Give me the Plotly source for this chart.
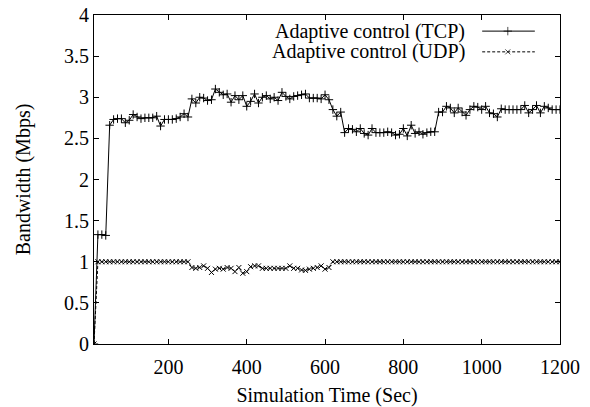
import plotly.graph_objects as go

time_s = list(range(10, 1201, 10))

tcp_mbps = [
    0.00, 1.33, 1.33, 1.32, 2.66, 2.73, 2.74, 2.74, 2.69, 2.72,   # 10-100
    2.79, 2.76, 2.74, 2.75, 2.75, 2.75, 2.77, 2.65, 2.73, 2.73,   # 110-200
    2.73, 2.74, 2.76, 2.80, 2.76, 2.98, 2.93, 3.00, 2.99, 2.96,   # 210-300
    2.97, 3.10, 3.06, 3.03, 3.04, 2.94, 3.02, 2.97, 3.02, 2.89,   # 310-400
    2.95, 3.04, 2.93, 3.00, 3.02, 2.98, 3.00, 2.96, 3.06, 3.01,   # 410-500
    2.98, 3.01, 3.02, 3.03, 3.04, 2.99, 2.99, 2.99, 2.98, 3.03,   # 510-600
    2.97, 2.85, 2.77, 2.82, 2.57, 2.62, 2.61, 2.58, 2.62, 2.56,   # 610-700
    2.54, 2.62, 2.57, 2.57, 2.57, 2.58, 2.57, 2.54, 2.55, 2.62,   # 710-800
    2.53, 2.66, 2.56, 2.58, 2.55, 2.57, 2.58, 2.58, 2.82, 2.82,   # 810-900
    2.89, 2.87, 2.81, 2.87, 2.82, 2.78, 2.85, 2.89, 2.88, 2.85,   # 910-1000
    2.89, 2.81, 2.80, 2.76, 2.86, 2.85, 2.85, 2.85, 2.85, 2.85,   # 1010-1100
    2.90, 2.81, 2.85, 2.90, 2.81, 2.89, 2.87, 2.85, 2.85, 2.85,   # 1110-1200
]

udp_mbps = [
    0.00, 1.00, 1.00, 1.00, 1.00, 1.00, 1.00, 1.00, 1.00, 1.00,   # 10-100
    1.00, 1.00, 1.00, 1.00, 1.00, 1.00, 1.00, 1.00, 1.00, 1.00,   # 110-200
    1.00, 1.00, 1.00, 1.00, 1.00, 0.93, 0.92, 0.93, 0.95, 0.92,   # 210-300
    0.87, 0.91, 0.92, 0.91, 0.93, 0.92, 0.88, 0.93, 0.86, 0.88,   # 310-400
    0.94, 0.95, 0.95, 0.92, 0.92, 0.92, 0.92, 0.92, 0.92, 0.92,   # 410-500
    0.95, 0.92, 0.92, 0.90, 0.895, 0.91, 0.92, 0.93, 0.95, 0.91,  # 510-600
    0.93, 1.00, 1.00, 1.00, 1.00, 1.00, 1.00, 1.00, 1.00, 1.00,   # 610-700
    1.00, 1.00, 1.00, 1.00, 1.00, 1.00, 1.00, 1.00, 1.00, 1.00,   # 710-800
    1.00, 1.00, 1.00, 1.00, 1.00, 1.00, 1.00, 1.00, 1.00, 1.00,   # 810-900
    1.00, 1.00, 1.00, 1.00, 1.00, 1.00, 1.00, 1.00, 1.00, 1.00,   # 910-1000
    1.00, 1.00, 1.00, 1.00, 1.00, 1.00, 1.00, 1.00, 1.00, 1.00,   # 1010-1100
    1.00, 1.00, 1.00, 1.00, 1.00, 1.00, 1.00, 1.00, 1.00, 1.00,   # 1110-1200
]

series_names = ["Adaptive control (TCP)", "Adaptive control (UDP)"]
x_ticks = [200, 400, 600, 800, 1000, 1200]
y_ticks = [0, 0.5, 1, 1.5, 2, 2.5, 3, 3.5, 4]
y_tick_labels = ["0", "0.5", "1", "1.5", "2", "2.5", "3", "3.5", "4"]

FONT = "Liberation Serif, Times New Roman, serif"
FS = 20

fig = go.Figure()

styles = [
    dict(dash="solid", symbol="cross-thin-open", size=6),
    dict(dash="3px,2px", symbol="x-thin-open", size=5),
]

for name, ys, st in zip(series_names, [tcp_mbps, udp_mbps], styles):
    fig.add_trace(go.Scatter(
        x=time_s, y=ys, mode="lines+markers", name=name,
        line=dict(color="black", width=1, dash=st["dash"]),
        marker=dict(symbol=st["symbol"], size=st["size"], color="black",
                    line=dict(color="black", width=1)),
        showlegend=False,
    ))

# custom gnuplot-style key (text right-aligned, sample on the right)
key_rows = [0.951, 0.888]
key_text_x = 0.800
key_sample_x = [0.833, 0.888, 0.946]
for name, row, st in zip(series_names, key_rows, styles):
    fig.add_annotation(x=key_text_x, y=row, xref="paper", yref="paper",
                       text=name, showarrow=False, xanchor="right",
                       yanchor="middle",
                       font=dict(family=FONT, size=FS, color="black"))
    fig.add_trace(go.Scatter(
        x=key_sample_x, y=[row] * 3, xaxis="x2", yaxis="y2",
        mode="lines+markers", showlegend=False, hoverinfo="skip",
        line=dict(color="black", width=1, dash=st["dash"]),
        marker=dict(symbol=st["symbol"], size=[0, st["size"], 0], color="black",
                    line=dict(color="black", width=1)),
    ))

axis_common = dict(
    showline=True, linecolor="black", linewidth=1, mirror="ticks",
    ticks="inside", ticklen=5, tickcolor="black", tickwidth=1,
    showgrid=False, zeroline=False,
    tickfont=dict(family=FONT, size=FS, color="black"),
)

fig.update_layout(
    width=590, height=407,
    margin=dict(l=94, r=30, t=15, b=63),
    paper_bgcolor="white", plot_bgcolor="white",
    font=dict(family=FONT, size=FS, color="black"),
    xaxis=dict(range=[10, 1200], tickvals=x_ticks, ticklabelstandoff=5,
               title=dict(text="Simulation Time (Sec)", standoff=10,
                          font=dict(family=FONT, size=FS)),
               automargin=False, **axis_common),
    yaxis=dict(range=[0, 4], tickvals=y_ticks, ticktext=y_tick_labels,
               title=dict(text="Bandwidth (Mbps)", standoff=28,
                          font=dict(family=FONT, size=FS)),
               automargin=False, **axis_common),
    xaxis2=dict(range=[0, 1], overlaying="x", visible=False, fixedrange=True),
    yaxis2=dict(range=[0, 1], overlaying="y", visible=False, fixedrange=True),
    showlegend=False,
)

fig.write_html("out.html",
               config={"displayModeBar": False},
               post_script="document.body.style.margin='0px';")
